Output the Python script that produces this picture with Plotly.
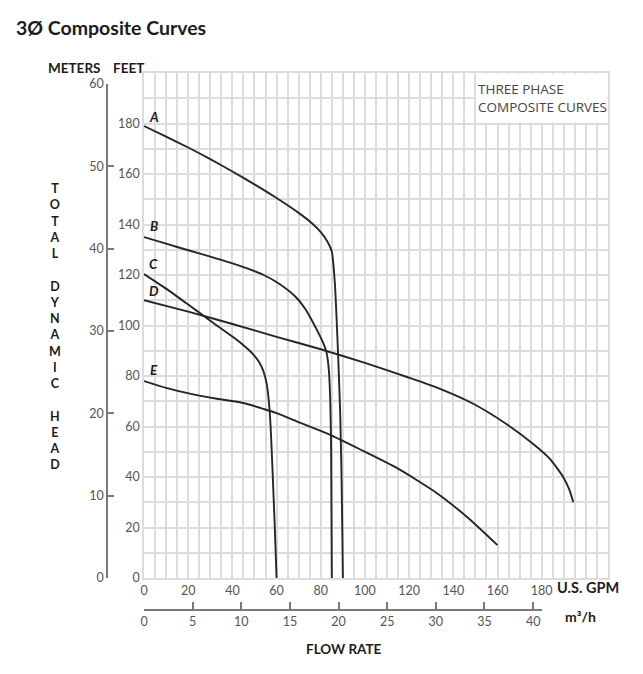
import plotly.graph_objects as go

# ---------------- data ----------------
A_gpm = [0, 10, 20, 30, 40, 50, 60, 70, 76, 80, 83, 85, 86.4, 87.3, 88, 88.8, 89.4, 89.8, 90]
A_ft = [179, 174.8, 170.5, 165.9, 161, 155.9, 150.5, 144.6, 140.5, 137, 133.3, 129.3, 116.5, 100, 85, 65, 40, 15, 0]

B_gpm = [0, 10, 20, 30, 39, 47, 54, 61.5, 69, 73, 76, 79, 81, 82.6, 83.6, 84.3, 84.7, 85]
B_ft = [135, 132.4, 129.8, 127.3, 124.9, 122.5, 120.1, 116.3, 111, 106.5, 102, 97, 93.3, 89.3, 83, 70, 50, 0]

C_gpm = [0, 10, 20, 30, 40, 45, 49, 52, 54, 55.5, 56.5, 57.3, 58.2, 59.2, 60]
C_ft = [120.4, 114.6, 108.3, 101.9, 95.6, 92.2, 89, 85.6, 82, 77, 70, 60, 42, 20, 0]

D_gpm = [0, 20, 40, 60, 80, 100, 120, 134, 149, 164, 176, 183.7, 189.7, 192.5, 194.3]
D_ft = [110, 105.5, 100.6, 95.5, 90.6, 85.2, 79.3, 74.9, 69, 61, 53.2, 47.2, 40, 35, 30]

E_gpm = [0, 10, 20.8, 33, 43.4, 48, 54, 60, 70.6, 84, 97.7, 114, 132.6, 147.5, 160]
E_ft = [78, 75.3, 73, 71, 69.6, 68.6, 67, 65.3, 61.5, 56.8, 51, 43.8, 33.6, 23.2, 13]

curve_names = ["A", "B", "C", "D", "E"]
curve_x = [A_gpm, B_gpm, C_gpm, D_gpm, E_gpm]
curve_y = [A_ft, B_ft, C_ft, D_ft, E_ft]
label_pos_gpm = [4.3, 4.3, 4.3, 4.3, 4.3]
label_pos_ft = [182.5, 139.5, 124.5, 113.5, 82.5]

gpm_ticks = [0, 20, 40, 60, 80, 100, 120, 140, 160, 180]
feet_ticks = [0, 20, 40, 60, 80, 100, 120, 140, 160, 180]
meter_ticks = [0, 10, 20, 30, 40, 50, 60]
m3h_ticks = [0, 5, 10, 15, 20, 25, 30, 35, 40]

GPM_PER_M3H = 4.4029

# ---------------- layout geometry ----------------
OFF = 8  # page body margin
W, H = 643 - OFF, 674 - 2 * OFF
ML, MR, MT, MB = 52, 27, 65, 40
PW = W - ML - MR
PH = H - MT - MB


def px(x):
    return (x - OFF - ML) / PW


def py(y):
    return (H - MB - (y - OFF)) / PH


plot_left, plot_right, plot_top, plot_bottom = 144, 608, 73, 578
GRID = "#dcdcdc"
TICKC = "#555555"
LINEC = "#262626"
FONT = "Lato, Open Sans, sans-serif"
BOLDC = "#1c1c1c"

fig = go.Figure()
for name, xs, ys in zip(curve_names, curve_x, curve_y):
    fig.add_trace(go.Scatter(x=xs, y=ys, mode="lines", name=name,
                             line=dict(color=LINEC, width=1.9, shape="spline", smoothing=0.6),
                             showlegend=False, hoverinfo="skip"))

# invisible trace to activate the secondary (metric) axes
fig.add_trace(go.Scatter(x=[None], y=[None], xaxis="x2", yaxis="y2", showlegend=False, hoverinfo="skip"))

x2_end_gpm = (542 - plot_left) / ((plot_right - plot_left) / 210)

fig.update_layout(
    width=W, height=H,
    margin=dict(l=ML, r=MR, t=MT, b=MB, autoexpand=False),
    paper_bgcolor="white", plot_bgcolor="rgba(0,0,0,0)",
    font=dict(family=FONT, color=TICKC, size=12),
    xaxis=dict(domain=[px(plot_left), px(plot_right)], range=[0, 210], tickvals=gpm_ticks,
               ticktext=[str(v) for v in gpm_ticks],
               showgrid=True, gridcolor=GRID, gridwidth=1.5,
               minor=dict(tick0=0, dtick=5, showgrid=True, gridcolor=GRID, gridwidth=1.5),
               zeroline=False, ticks="", showline=True, linecolor=GRID, linewidth=1.5, mirror=True,
               tickfont=dict(size=12.5, color=TICKC)),
    yaxis=dict(domain=[py(plot_bottom), py(plot_top)], range=[0, 200], tickvals=feet_ticks,
               showgrid=True, gridcolor=GRID, gridwidth=1.5,
               minor=dict(tick0=0, dtick=10, showgrid=True, gridcolor=GRID, gridwidth=1.5),
               zeroline=False, ticks="", showline=True, linecolor=GRID, linewidth=1.5, mirror=True,
               tickfont=dict(size=12.5, color=TICKC)),
    yaxis2=dict(domain=[py(plot_bottom), py(84)], range=[0, 60], anchor="free",
                position=px(107), side="left", tickvals=meter_ticks,
                showgrid=False, zeroline=False, showline=True, linecolor="#7a7a7a", linewidth=1.5,
                ticks="inside", ticklen=6, tickcolor="#7a7a7a", tickwidth=1.5,
                tickfont=dict(size=12.5, color=TICKC)),
    xaxis2=dict(domain=[px(plot_left), px(542)], range=[0, x2_end_gpm / GPM_PER_M3H],
                anchor="free", position=py(610), side="bottom", tickvals=m3h_ticks,
                showgrid=False, zeroline=False, showline=True, linecolor="#7a7a7a", linewidth=1.5,
                ticks="inside", ticklen=7, tickcolor="#7a7a7a", tickwidth=1.5,
                tickfont=dict(size=12.5, color=TICKC)),
)

# white box behind the legend text
fig.add_shape(type="rect", xref="x", yref="y", x0=150.4, x1=209.6, y0=180.4, y1=199.6,
              fillcolor="white", line=dict(width=0), layer="above")

annotations = []
annotations.append(dict(text="<b>3Ø Composite Curves</b>", xref="paper", yref="paper",
                        x=px(14), y=py(28), xanchor="left", yanchor="middle", showarrow=False,
                        font=dict(size=19.5, color=BOLDC, family=FONT)))
annotations.append(dict(text="<b>METERS</b>", xref="paper", yref="paper",
                        x=px(46), y=py(68), xanchor="left", yanchor="middle", showarrow=False,
                        font=dict(size=13.5, color=BOLDC, family=FONT)))
annotations.append(dict(text="<b>FEET</b>", xref="paper", yref="paper",
                        x=px(111), y=py(68), xanchor="left", yanchor="middle", showarrow=False,
                        font=dict(size=13.5, color=BOLDC, family=FONT)))
stack = "<br>".join(list("TOTAL") + ["\u00a0"] + list("DYNAMIC") + ["\u00a0"] + list("HEAD"))
annotations.append(dict(text="<b>" + stack + "</b>", xref="paper", yref="paper",
                        x=px(55), y=py(326), xanchor="center", yanchor="middle", showarrow=False,
                        font=dict(size=12.5, color=BOLDC, family=FONT)))
annotations.append(dict(text="<b>U.S. GPM</b>", xref="paper", yref="paper",
                        x=px(555), y=py(587), xanchor="left", yanchor="middle", showarrow=False,
                        font=dict(size=14.5, color=BOLDC, family=FONT)))
annotations.append(dict(text="<b>m³/h</b>", xref="paper", yref="paper",
                        x=px(563), y=py(616), xanchor="left", yanchor="middle", showarrow=False,
                        font=dict(size=14, color=BOLDC, family=FONT)))
annotations.append(dict(text="<b>FLOW RATE</b>", xref="paper", yref="paper",
                        x=px(344), y=py(649), xanchor="center", yanchor="middle", showarrow=False,
                        font=dict(size=13.5, color=BOLDC, family=FONT)))
annotations.append(dict(text="THREE PHASE<br>COMPOSITE CURVES", xref="x", yref="y",
                        x=150.4, y=190, xanchor="left", yanchor="middle", align="left", showarrow=False,
                        font=dict(size=13.5, color="#444444", family="Open Sans, sans-serif")))
for name, gx, fy in zip(curve_names, label_pos_gpm, label_pos_ft):
    annotations.append(dict(text="<b><i>" + name + "</i></b>", xref="x", yref="y",
                            x=gx, y=fy, xanchor="center", yanchor="middle", showarrow=False,
                            font=dict(size=13.5, color=BOLDC, family=FONT)))
fig.update_layout(annotations=annotations)

fig.write_html("out.html")
